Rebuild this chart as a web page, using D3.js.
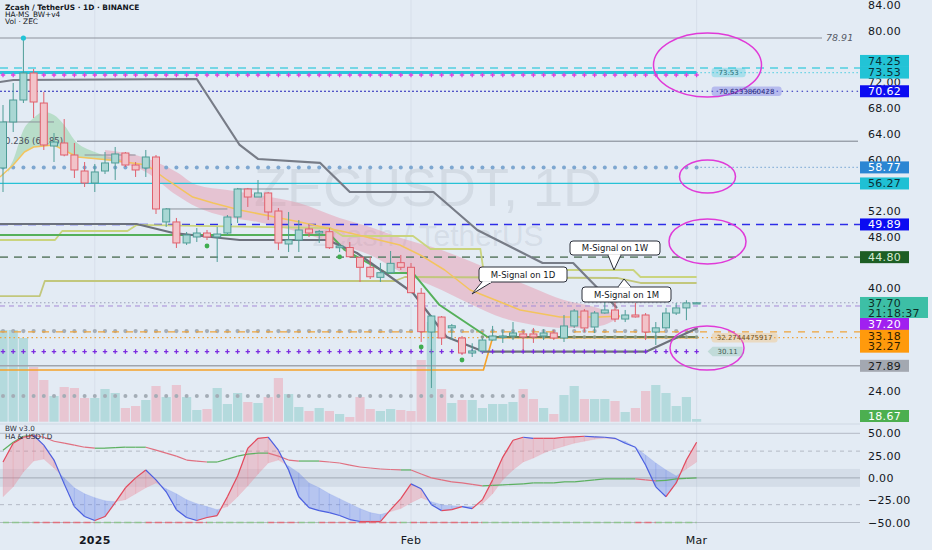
<!DOCTYPE html>
<html><head><meta charset="utf-8">
<script src="https://cdn.jsdelivr.net/npm/d3@7/dist/d3.min.js"></script>
<style>
html,body{margin:0;padding:0;background:#e3ebf4;}
svg{display:block;font-family:"DejaVu Sans",sans-serif;}
</style></head><body>
<svg id="chart" width="932" height="550"></svg>
<script>
// ---------------- DATA ----------------
const dates = d3.utcDay.range(new Date(Date.UTC(2024,11,23)), new Date(Date.UTC(2025,2,2)));
const open  = [58.68,65.84,69.26,73.46,68.79,62.10,62.57,60.70,58.21,56.34,58.21,59.46,61.01,59.14,58.68,60.39,50.28,50.28,47.01,47.94,48.56,47.94,48.56,51.05,55.41,54.16,54.79,51.98,46.85,47.47,49.19,48.56,48.76,46.27,46.30,44.78,43.22,41.66,42.38,43.94,43.22,39.18,33.15,35.48,33.80,32.22,29.88,30.20,31.90,32.40,32.53,32.85,32.85,32.53,33.00,32.22,34.09,36.42,33.93,36.11,36.58,35.17,35.80,35.80,33.15,33.80,36.10,36.90,37.60];
const high  = [68.48,71.91,78.91,74.09,70.51,64.12,66.30,62.57,59.61,59.30,61.17,61.95,61.17,59.61,61.48,60.70,52.45,50.90,48.72,49.34,49.03,49.50,51.36,55.57,55.57,56.81,54.94,52.45,51.83,50.58,49.81,49.03,49.34,47.00,47.16,44.87,44.83,43.90,45.76,45.14,43.89,40.00,35.80,35.64,34.40,32.53,31.40,32.20,34.10,33.50,34.70,33.47,33.78,33.60,33.47,35.80,36.73,36.73,36.42,38.90,38.44,36.58,37.67,36.10,34.70,36.90,37.67,38.10,37.75];
const low   = [54.94,64.28,68.79,66.46,61.48,59.61,60.50,57.12,55.72,54.94,57.74,56.81,58.83,57.28,57.28,51.52,49.50,46.23,46.70,47.16,47.47,44.05,48.25,50.12,52.61,54.16,50.58,45.92,45.60,45.60,47.94,47.01,46.07,45.60,44.70,40.94,41.40,40.94,42.20,42.80,39.22,31.60,24.44,31.13,31.90,29.57,29.26,29.90,31.80,31.45,31.90,30.35,31.45,31.90,31.90,31.60,33.78,33.15,33.00,36.00,34.70,34.70,35.40,31.90,31.13,33.60,35.80,35.00,37.60];
const close = [65.84,69.26,73.46,68.95,62.26,62.72,60.70,58.37,56.34,58.06,59.46,60.86,59.14,58.37,60.39,52.30,52.30,47.01,48.25,48.56,47.94,48.40,51.05,55.41,54.16,54.79,51.83,47.01,47.47,49.03,48.56,48.81,46.27,46.54,44.87,43.22,41.75,42.38,43.84,43.22,39.27,33.20,35.64,32.22,34.12,29.88,30.20,31.90,32.53,32.53,33.00,32.38,32.38,33.00,32.22,34.09,36.42,33.78,36.11,36.58,35.17,35.80,35.50,33.15,33.80,36.10,36.90,37.67,37.70];
const volume = [917,917,837,547,417,257,347,337,237,237,327,287,137,157,217,357,247,367,247,117,127,337,177,287,197,187,247,437,277,147,107,137,107,77,47,247,127,107,127,117,107,617,997,327,187,217,217,137,177,177,197,327,227,137,77,267,357,227,227,227,207,97,137,307,367,287,157,247,27];

// oscillator (BW v3.0)
const oscFast = [17.8,38.9,45.6,47.8,36.7,20,-6.7,-32.2,-43.3,-47.8,-43.3,-27.8,-11.1,0,8.9,-2.2,-15.6,-35.6,-44.4,-47.8,-44.4,-42.2,-21.1,2.2,33.3,44.4,45.6,31.1,8.9,-21.1,-33.3,-36.7,-38.9,-42.2,-46.7,-48.9,-48.9,-48.9,-35.6,-23.3,-6.7,-12.2,-30,-36.7,-35.6,-32.2,-34.4,-24.4,-2.2,23.3,42.2,45.6,44.4,44.4,44.4,45.6,46.1,46.7,46.1,45.6,44.4,38.9,34.4,14.4,-10,-21.1,-5.6,20,40];
const oscSlow = [-21.1,-10,6.7,18.9,21.1,11.1,0,-11.1,-17.8,-22.2,-25.6,-26.7,-24.4,-17.8,-11.1,-5.6,-12.2,-17.8,-24.4,-28.9,-32.2,-35.6,-32.2,-21.1,-8.9,4.4,16.7,20,13.3,5.6,-5.6,-11.1,-17.8,-23.3,-28.9,-34.4,-38.9,-41.1,-37.8,-34.4,-27.8,-22.2,-26.7,-30,-31.1,-31.7,-32.2,-28.9,-17.8,-2.2,8.9,17.8,22.2,27.8,32.2,35.6,38.9,41.1,43.3,44.4,43.3,41.1,34.4,25.6,16.7,8.9,2.2,10,17.8];
const oscTrend = [31.1,40,46.7,47.8,45.6,41.1,38.9,36.7,34.4,33.3,33.3,33.9,34.4,34.4,34.4,31.1,27.8,24.4,20,18.9,17.8,17.8,21.1,24.4,26.7,27.8,27.8,24.4,20,18.9,18.9,18.9,17.8,16.7,14.4,12.2,11.1,10,9.4,8.9,8.9,4.4,0,-2.2,-4.4,-5.6,-7.2,-8.9,-8.3,-7.8,-7.2,-6.7,-5.6,-5.6,-5.6,-4.4,-4.4,-3.3,-2.2,-1.1,-1.1,-1.1,-1.1,-2.2,-3.3,-2.8,-1.1,-0.6,0];

// indicator lines: [day index, price]
const sig1D_i = [-0.3,1,2.1,3,5,7.3,10.5,14.1,16.1,18.6,20.6,23.2,29.1,34,38.9,40.9,43.3,45.8,50.7,54.6,58.5,60.5];
const sig1D_v = [57.28,59.14,61.17,61.95,62.26,60.39,59.92,59.14,56.81,54.16,53.23,52.14,50.27,48.56,46.69,45.14,42.80,39.69,36.58,35.49,35.49,35.64];
const sig1W_i = [-0.3,5.1,5.8,12.2,13.1,32.1,33.3,40.2,41.9,46.8,47.1,61.8,62.5,68];
const sig1W_v = [47.47,47.47,48.87,48.87,49.81,49.34,48.09,48.09,46.07,46.07,42.80,42.80,41.71,41.71];
const sig1M_i = [-0.3,3.6,4.1,38.4,39.4,60.2,62.5,68];
const sig1M_v = [38.75,38.75,41.09,41.09,41.71,41.56,40.78,40.78];
const trendA_i = [-0.3,1,19,23.2,25,31.1,34,42.2,46.5,52.9,55.9,60.2];
const trendA_v = [72.06,72.37,72.53,62.26,60.08,59.46,54.94,54.94,49.03,43.89,43.89,36.89];
const trendB_i = [-0.3,13.1,16.7,23.2,31.8,34.7,40.2,43.5,47.1,63.1,68.1];
const trendB_v = [49.96,49.96,48.56,47.47,47.47,45.45,39.22,32.37,30.11,30.11,33.78];
const greenLine_i = [-0.3,32.1,33.5,37.6,40.2,42.8,47.5];
const greenLine_v = [48.25,48.25,45.92,42.33,42.33,37.35,32.37];
const oliveLine_i = [47.5,68.1];
const oliveLine_v = [32.37,32.37];
const orangeLine_i = [-0.3,47.1,48.0,68.1];
const orangeLine_v = [27.24,27.24,32.27,32.27];
const cloud_i   = [10,14,17,19,22,25,29,33,36,39,43,46,49,52,55,58,60.5];
const cloudTop  = [61.48,60.23,58.06,56.03,55.25,54.47,53.23,50.90,49.49,47.78,45.91,44.05,42.02,40.00,38.13,37.04,35.64];
const cloudBot  = [59.92,58.06,54.47,52.60,51.05,50.27,48.72,46.69,45.14,42.49,39.69,37.36,35.33,34.24,33.78,33.93,35.40];
const gCloud_i  = [0.5,1,2,3,4,5,6,7,9,12];
const gCloudTop = [58.37,59.92,64.59,66.46,67.39,66.93,65.37,63.04,61.17,59.92];
const gCloudBot = [58.06,59.14,61.01,61.95,62.10,62.26,61.48,60.55,60.08,59.61];
const pivotSegs = [[0,5,65.84],[8,13,60.70],[16,22,52.30],[23,28,55.41]];
const signalDots = [[20,46.54],[33,44.83],[41,30.82],[45,28.79]];

const priceTicks = [84,80,76,72,68,64,60,56,52,48,44,40,36,32,28,24];
const oscTicks = [50,25,0,-25,-50];
const timeTicks = [[new Date(Date.UTC(2025,0,1)),"2025",true],[new Date(Date.UTC(2025,1,1)),"Feb",false],[new Date(Date.UTC(2025,2,1)),"Mar",false]];
const badges = [
 {v:74.25,t:"74.25",bg:"#22c3d6",fg:"#0b2f35"},
 {v:73.53,t:"73.53",bg:"#22c3d6",fg:"#0b2f35"},
 {v:70.62,t:"70.62",bg:"#0b0bf2",fg:"#ffffff"},
 {v:58.77,t:"58.77",bg:"#2a86d3",fg:"#ffffff"},
 {v:56.27,t:"56.27",bg:"#1fc0d4",fg:"#0b2f35"},
 {v:49.89,t:"49.89",bg:"#0b0bf2",fg:"#ffffff"},
 {v:44.80,t:"44.80",bg:"#1d5e24",fg:"#d6ecd6"},
 {v:37.20,t:"37.20",bg:"#a020f0",fg:"#ffffff"},
 {v:33.18,t:"33.18",bg:"#ff9a0c",fg:"#2e1d00"},
 {v:32.27,t:"32.27",bg:"#ff9a0c",fg:"#2e1d00"},
 {v:27.89,t:"27.89",bg:"#a3a8b1",fg:"#1a1c20"}
];
const lastPrice = 37.70, countdown = "21:18:37", volLabel = "18.67";

// ---------------- SETUP ----------------
const svg = d3.select("#chart");
const N = dates.length, R = 860;
const x = d3.scaleUtc().domain([dates[0], dates[N-1]]).range([3, 696.6]);
const xi = i => x(new Date(+dates[0] + i*864e5));
const y = d3.scaleLinear().domain([24,84]).range([390.8,5.3]);
const yv = d3.scaleLinear().domain([0,1000]).range([421.7,321.7]);
const yo = d3.scaleLinear().domain([-50,50]).range([522.5,433.3]);
const lastX = xi(N-1);

svg.append("rect").attr("width",932).attr("height",550).attr("fill","#e3ebf4");

timeTicks.forEach(t=>{
  svg.append("line").attr("x1",x(t[0])).attr("x2",x(t[0])).attr("y1",0).attr("y2",530)
    .attr("stroke","#d7dfea").attr("stroke-width",1);
});
svg.append("line").attr("x1",0).attr("x2",R).attr("y1",424).attr("y2",424).attr("stroke","#cfd8e3");

svg.append("text").attr("x",428).attr("y",206).attr("text-anchor","middle")
  .attr("font-family","Liberation Sans, Arial").attr("font-size",54)
  .attr("fill","rgba(120,125,140,0.15)").text("ZECUSDT, 1D");
svg.append("text").attr("x",428).attr("y",246).attr("text-anchor","middle")
  .attr("font-family","Liberation Sans, Arial").attr("font-size",30)
  .attr("fill","rgba(120,125,140,0.15)").text("Zcash / TetherUS");

const up = i => close[i] >= open[i];

svg.append("g").selectAll("rect").data(volume).join("rect")
  .attr("x",(d,i)=>xi(i)-4.6).attr("width",9.2)
  .attr("y",d=>yv(d)).attr("height",d=>yv(0)-yv(d))
  .attr("fill",(d,i)=>up(i)?"#b4dadd":"#e8c6d2");

function dotRow(price, n0, n1, color, r){
  svg.append("g").selectAll("circle").data(d3.range(n0,n1+1)).join("circle")
    .attr("cx",i=>xi(i)).attr("cy",y(price)).attr("r",r).attr("fill",color);
}
function plusRow(price, n0, n1, color){
  svg.append("g").selectAll("path").data(d3.range(n0,n1+1)).join("path")
    .attr("d",i=>`M${xi(i)-2.2},${y(price)}h4.4M${xi(i)},${y(price)-2.2}v4.4`)
    .attr("stroke",color).attr("stroke-width",1.3);
}
function hline(price, x1, x2, color, w, dash){
  svg.append("line").attr("x1",x1).attr("x2",x2).attr("y1",y(price)).attr("y2",y(price))
    .attr("stroke",color).attr("stroke-width",w).attr("stroke-dasharray",dash||null);
}
dotRow(23.2, 0, 51, "#a4adb6", 2);

const area = d3.area().curve(d3.curveMonotoneX);
svg.append("path").attr("d", area.x((d,k)=>xi(gCloud_i[k])).y0((d,k)=>y(gCloudBot[k])).y1((d,k)=>y(gCloudTop[k]))(gCloud_i))
  .attr("fill","rgba(150,210,165,0.55)");
svg.append("path").attr("d", area.x((d,k)=>xi(cloud_i[k])).y0((d,k)=>y(cloudBot[k])).y1((d,k)=>y(cloudTop[k]))(cloud_i))
  .attr("fill","rgba(232,140,162,0.42)");

hline(78.91, 0, 822, "#8d929c", 1);
svg.append("text").attr("x",826).attr("y",41).attr("font-size",9.5).attr("font-style","italic").attr("fill","#555a66").text("78.91");
hline(74.25, 0, R, "#52cfe0", 1.5, "8,6");
hline(73.53, 0, lastX, "#2cc6dc", 3);
hline(73.53, lastX, R, "#2cc6dc", 1.2, "1,3");
plusRow(73.15, 0, N-1, "#e040e0");
hline(70.62, 0, lastX, "#2323b8", 1.2, "2,2");
hline(70.62, lastX, R, "#2323b8", 1.2, "1.5,3.5");
hline(62.85, 77, 858, "#7c818c", 1);
svg.append("text").attr("x",2).attr("y",144).attr("font-size",8.5).attr("fill","#4a4f5a").text("-0.236 (62.85)");
pivotSegs.forEach(s=>{
  svg.append("line").attr("x1",xi(s[0])).attr("x2",xi(s[1])).attr("y1",y(s[2])).attr("y2",y(s[2])).attr("stroke","#8d929c").attr("stroke-width",1);
});
hline(58.77, lastX, R, "#5d95cc", 1.2, "1,3");
dotRow(58.77, 0, N-1, "#7ea7d0", 2);
hline(56.27, 0, R, "#27c2d6", 1.3);
hline(49.89, 0, R, "#2d2de8", 1.4, "8,6");
hline(44.80, 0, R, "#6f8a78", 1.6, "8,6");
hline(37.70, 0, R, "#9aa0b8", 1, "1.5,2.5");
hline(37.20, 0, R, "#a78ad8", 1, "5,4");
dotRow(33.3, 0, N-1, "#a5adb6", 2.1);
hline(33.18, 0, R, "#f0a43a", 1.3, "7,7");
hline(32.27, 0, R, "#f0a43a", 1.2, "1.5,3");
hline(27.89, 0, R, "#a0a5ae", 1.6);

const ln = (ii, vv) => d3.line().x((d,k)=>xi(ii[k])).y((d,k)=>y(vv[k]))(ii);
function pl(ii, vv, color, w){ svg.append("path").attr("d",ln(ii,vv)).attr("fill","none").attr("stroke",color).attr("stroke-width",w).attr("stroke-linejoin","round"); }
pl(orangeLine_i, orangeLine_v, "#f5a22a", 1.6);
pl(sig1M_i, sig1M_v, "#c2c77c", 1.8);
pl(sig1W_i, sig1W_v, "#cad47e", 1.8);
pl(greenLine_i, greenLine_v, "#55b05a", 2);
pl(oliveLine_i, oliveLine_v, "#6f7d4f", 2.2);
dotRow(32.37, 47, N-1, "#8e9a86", 1.8);
pl(sig1D_i, sig1D_v, "#f3c45e", 1.5);
pl(trendA_i, trendA_v, "#777c87", 2.2);
pl(trendB_i, trendB_v, "#6c717c", 2.2);
plusRow(30.11, 0, N-1, "#7b2be0");

const cg = svg.append("g");
for(let i=0;i<N;i++){
  const u = up(i), cx = xi(i);
  const stroke = u ? "#4f9d97" : "#e0606d", fill = u ? "#a9d7d4" : "#f2c3c9";
  cg.append("line").attr("x1",cx).attr("x2",cx).attr("y1",y(high[i])).attr("y2",y(low[i])).attr("stroke",stroke).attr("stroke-width",1);
  const top = y(Math.max(open[i],close[i])), bot = y(Math.min(open[i],close[i]));
  cg.append("rect").attr("x",cx-3.5).attr("width",7).attr("y",top).attr("height",Math.max(1.2,bot-top))
    .attr("fill",fill).attr("stroke",stroke).attr("stroke-width",1);
}
svg.append("circle").attr("cx",xi(2)).attr("cy",y(high[2])).attr("r",2.6).attr("fill","#22c3d6");
signalDots.forEach(s=>svg.append("circle").attr("cx",xi(s[0])).attr("cy",y(s[1])).attr("r",2.4).attr("fill","#3fae4f"));

function callout(bx, by, bw, bh, text, tail){
  const g = svg.append("g");
  g.append("rect").attr("x",bx).attr("y",by).attr("width",bw).attr("height",bh).attr("rx",3)
    .attr("fill","#ffffff").attr("stroke","#2a2e39").attr("stroke-width",1);
  g.append("path").attr("d",`M${tail[0][0]},${tail[0][1]}L${tail[1][0]},${tail[1][1]}L${tail[2][0]},${tail[2][1]}`)
    .attr("fill","#ffffff").attr("stroke","#2a2e39").attr("stroke-width",1);
  g.append("line").attr("x1",tail[0][0]+0.8).attr("x2",tail[2][0]-0.8).attr("y1",tail[0][1]).attr("y2",tail[2][1]).attr("stroke","#fff").attr("stroke-width",1.6);
  g.append("text").attr("x",bx+bw/2).attr("y",by+bh/2+3).attr("text-anchor","middle").attr("font-size",8.5).attr("fill","#131722").text(text);
}
callout(479,267,88,15,"M-Signal on 1D",[[482,282],[472,294],[492,282]]);
callout(570,241,90,14,"M-Signal on 1W",[[608,255],[614,270],[621,255]]);
callout(582,287,89,15,"M-Signal on 1M",[[618,287],[624,279],[631,287]]);

[[707.5,65,54,32],[707.5,176.5,28,16.5],[707.5,241.5,38.5,22.5],[707,348,37,22]].forEach(e=>{
  svg.append("ellipse").attr("cx",e[0]).attr("cy",e[1]).attr("rx",e[2]).attr("ry",e[3])
    .attr("fill","none").attr("stroke","#e03ad8").attr("stroke-width",1.5);
});

function pill(px, price, w, text, bg, fg, arrow){
  const cy = y(price), h = 9.5;
  if(arrow){
    svg.append("path").attr("d",`M${px-5},${cy}L${px},${cy-h/2}H${px+w}V${cy+h/2}H${px}Z`).attr("fill",bg);
  } else svg.append("rect").attr("x",px).attr("y",cy-h/2).attr("width",w).attr("height",h).attr("rx",3).attr("fill",bg);
  svg.append("text").attr("x",px+w/2).attr("y",cy+2.6).attr("text-anchor","middle").attr("font-size",7).attr("fill",fg).text(text);
}
pill(lastX+15, 73.53, 34, "73.53", "rgba(40,195,215,0.30)", "#2d6d75");
pill(lastX+15, 70.62, 70, "70.6233860428", "rgba(110,110,230,0.38)", "#2a2a7a");
pill(lastX+15, 32.27, 66, "32.2744475917", "rgba(245,185,100,0.35)", "#6e5428");
pill(lastX+16, 30.11, 30, "30.11", "rgba(150,200,185,0.45)", "#3f5a55", true);

const hdr = svg.append("g").attr("font-size",7.4).attr("fill","#131722");
hdr.append("text").attr("x",5).attr("y",9.5).attr("font-weight","bold").text("Zcash / TetherUS · 1D · BINANCE");
hdr.append("text").attr("x",5).attr("y",16.5).text("HA-MS_BW+v4");
hdr.append("text").attr("x",5).attr("y",23.5).text("Vol · ZEC");

// ---------------- LOWER PANEL ----------------
svg.append("rect").attr("x",0).attr("width",R).attr("y",yo(10)).attr("height",yo(-10)-yo(10)).attr("fill","rgba(160,172,190,0.22)");
[[50,null,"#b3bac5"],[30,"4,4","#b3bac5"],[0,null,"#a2aab6"],[-30,"4,4","#b3bac5"],[-50,null,"#b3bac5"]].forEach(l=>{
  svg.append("line").attr("x1",0).attr("x2",R).attr("y1",yo(l[0])).attr("y2",yo(l[0])).attr("stroke",l[2]).attr("stroke-dasharray",l[1]);
});
function fillPoly(p0,p1,pos){
  const pts=[[xi(p0[0]),yo(p0[1])],[xi(p1[0]),yo(p1[1])],[xi(p1[0]),yo(p1[2])],[xi(p0[0]),yo(p0[2])]];
  const c = pos ? "rgba(236,120,140,0.33)" : "rgba(90,120,235,0.33)";
  svg.append("path").attr("d","M"+pts.join("L")+"Z").attr("fill",c).attr("stroke",c).attr("stroke-width",0.4);
}
for(let i=0;i<N-1;i++){
  const a0=oscFast[i]-oscSlow[i], a1=oscFast[i+1]-oscSlow[i+1];
  if(a0*a1<0){
    const t=a0/(a0-a1), xm=i+t, vm=oscFast[i]+t*(oscFast[i+1]-oscFast[i]);
    fillPoly([i,oscFast[i],oscSlow[i]],[xm,vm,vm],a0>0);
    fillPoly([xm,vm,vm],[i+1,oscFast[i+1],oscSlow[i+1]],a1>0);
  } else fillPoly([i,oscFast[i],oscSlow[i]],[i+1,oscFast[i+1],oscSlow[i+1]],(a0+a1)>=0);
}
for(let i=0;i<N-1;i++){
  svg.append("line").attr("x1",xi(i)).attr("x2",xi(i+1)).attr("y1",yo(oscTrend[i])).attr("y2",yo(oscTrend[i+1]))
    .attr("stroke",oscTrend[i+1]>=oscTrend[i]?"#5cb060":"#e07080").attr("stroke-width",1.2);
  svg.append("line").attr("x1",xi(i)).attr("x2",xi(i+1)).attr("y1",yo(oscFast[i])).attr("y2",yo(oscFast[i+1]))
    .attr("stroke",oscFast[i+1]>=oscFast[i]?"#e2495c":"#4b5fe0").attr("stroke-width",1.2);
  svg.append("line").attr("x1",xi(i)).attr("x2",xi(i+1)).attr("y1",yo(-50)).attr("y2",yo(-50))
    .attr("stroke",oscTrend[i+1]>=oscTrend[i]?"#8fc48f":"#e0707c").attr("stroke-width",1.6).attr("stroke-dasharray","6,3");
}
const lp = svg.append("g").attr("font-size",7.2).attr("fill","#2a2e39");
lp.append("text").attr("x",5).attr("y",431).text("BW v3.0");
lp.append("text").attr("x",5).attr("y",438.5).text("HA & USDT.D");

// ---------------- AXES & BADGES ----------------
const badgeShift = {"74.25":-7,"37.20":18,"33.18":4,"32.27":9};
const badgeRects = badges.map(b=>({cy:y(b.v)+(badgeShift[b.t]||0),h:12,b}));
badgeRects.push({cy:y(lastPrice)+4.7,h:21});
badgeRects.push({cy:416,h:12});
// tick labels mostly covered by a badge are not drawn (the badge sits on top)
const covered = p => badgeRects.some(r=>{
  const t0=y(p)-4, t1=y(p)+4, b0=r.cy-r.h/2, b1=r.cy+r.h/2;
  return Math.min(t1,b1)-Math.max(t0,b0) > 3;
});
const ax = svg.append("g").attr("font-size",11).attr("letter-spacing",0.3).attr("fill","#131722");
priceTicks.filter(p=>!covered(p)).forEach(p=>ax.append("text").attr("x",868).attr("y",y(p)+4).text(p.toFixed(2)));
oscTicks.forEach(p=>ax.append("text").attr("x",868).attr("y",yo(p)+4).text((p<0?"\u2212":"")+Math.abs(p).toFixed(2)));
timeTicks.forEach(t=>ax.append("text").attr("x",x(t[0])).attr("y",544).attr("text-anchor","middle")
  .attr("font-weight",t[2]?"bold":"normal").text(t[1]));

function badge(cy, h, w, lines, bg, fg){
  svg.append("rect").attr("x",860).attr("y",cy-h/2).attr("width",w).attr("height",h).attr("fill",bg);
  lines.forEach((t,k)=>svg.append("text").attr("x",868).attr("y",cy-h/2+9.8+k*10.3).attr("font-size",11).attr("letter-spacing",0.3).attr("fill",fg).text(t));
}
badgeRects.slice(0,badges.length).forEach(r=>badge(r.cy,12,49,[r.b.t],r.b.bg,r.b.fg));
badge(y(lastPrice)+4.7,21,68,[lastPrice.toFixed(2),countdown],"#3dbfa6","#0d2d27");
badge(416,12,49,[volLabel],"#4caf50","#ffffff");
</script>
</body></html>
